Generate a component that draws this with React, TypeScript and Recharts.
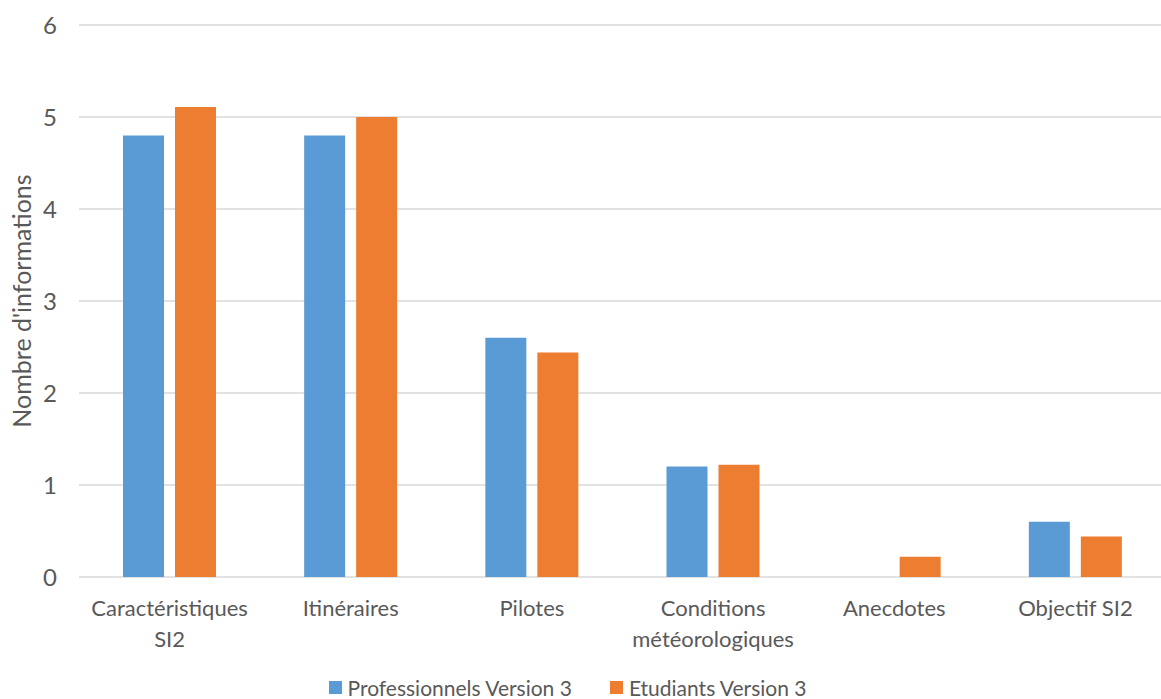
import { BarChart, Bar, XAxis, YAxis, CartesianGrid, Legend } from "recharts";

const tickLabels = [
  ["Caractéristiques", "SI2"],
  ["Itinéraires"],
  ["Pilotes"],
  ["Conditions", "météorologiques"],
  ["Anecdotes"],
  ["Objectif SI2"],
];
const categories = tickLabels.map((l) => l.join(" "));
const professionnels = [4.8, 4.8, 2.6, 1.2, 0, 0.6];
const etudiants = [5.11, 5.0, 2.44, 1.22, 0.22, 0.44];
const yTicks = [0, 1, 2, 3, 4, 5, 6];

const data = categories.map((c, i) => ({
  cat: c,
  pro: professionnels[i],
  etu: etudiants[i],
}));

const FONT = "Lato, 'Open Sans', sans-serif";
const FS = 22;
const TEXT = "#595959";
const BLUE = "#5B9BD5";
const ORANGE = "#ED7D31";

function CategoryTick({ x, y, payload }: any) {
  const lines = tickLabels[payload.index] ?? [payload.value];
  return (
    <text x={x} y={y} textAnchor="middle" fill={TEXT} fontSize={FS} fontFamily={FONT}>
      {lines.map((l, i) => (
        <tspan key={i} x={x} dy={i === 0 ? 39 : 31}>
          {l}
        </tspan>
      ))}
    </text>
  );
}

function LegendContent() {
  const items = [
    { name: "Professionnels Version 3", color: BLUE },
    { name: "Etudiants Version 3", color: ORANGE },
  ];
  return (
    <div
      style={{
        display: "flex",
        justifyContent: "center",
        alignItems: "center",
        height: 24,
        gap: 38,
        fontFamily: FONT,
        fontSize: 21,
        color: TEXT,
      }}
    >
      {items.map((it) => (
        <div key={it.name} style={{ display: "flex", alignItems: "center", gap: 6 }}>
          <span style={{ width: 13, height: 13, background: it.color, display: "inline-block" }} />
          <span>{it.name}</span>
        </div>
      ))}
    </div>
  );
}

export default function App() {
  return (
    <div
      style={{
        position: "absolute",
        left: 0,
        top: 0,
        width: 1161,
        height: 699,
        overflow: "hidden",
        background: "#fff",
      }}
    >
      <BarChart
        width={1166}
        height={699}
        data={data}
        margin={{ top: 25, right: 0, bottom: 0, left: 0 }}
        barGap={11}
        barCategoryGap={44}
      >
        <CartesianGrid stroke="#D9D9D9" strokeWidth={1.4} vertical={false} />
        <XAxis
          dataKey="cat"
          height={98}
          axisLine={false}
          tickLine={false}
          tickSize={0}
          tickMargin={0}
          interval={0}
          tick={<CategoryTick />}
        />
        <YAxis
          width={79}
          domain={[0, 6]}
          ticks={yTicks}
          axisLine={false}
          tickLine={false}
          tickSize={0}
          tickMargin={22}
          tick={{ fill: TEXT, fontSize: 24, fontFamily: FONT }}
          label={{
            value: "Nombre d'informations",
            angle: -90,
            position: "insideLeft",
            offset: 22,
            style: { textAnchor: "middle", fill: TEXT, fontSize: 25, fontFamily: FONT },
          }}
        />
        <Legend
          verticalAlign="bottom"
          height={24}
          wrapperStyle={{ left: 0, width: 1135 }}
          content={<LegendContent />}
        />
        <Bar dataKey="pro" name="Professionnels Version 3" fill={BLUE} isAnimationActive={false} />
        <Bar dataKey="etu" name="Etudiants Version 3" fill={ORANGE} isAnimationActive={false} />
      </BarChart>
    </div>
  );
}
